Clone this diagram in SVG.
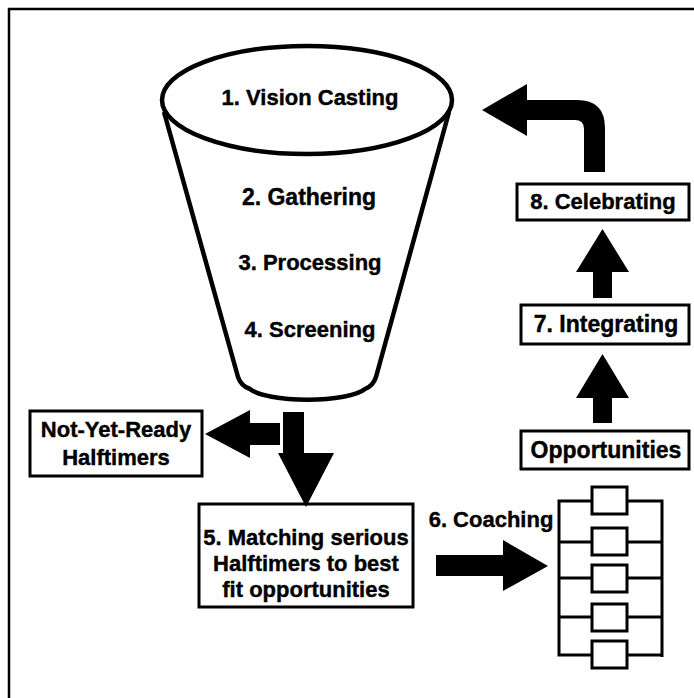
<svg xmlns="http://www.w3.org/2000/svg" width="694" height="698" viewBox="0 0 694 698">
<style>
text{font-family:"Liberation Sans",Arial,sans-serif;font-weight:bold;font-size:22px;fill:#000;stroke:#000;stroke-width:0.4;text-anchor:middle}
.big{font-size:23px}
.box{fill:#fff;stroke:#000;stroke-width:3}
.rung{fill:none;stroke:#000;stroke-width:3}
.arrow{fill:#000;stroke:none}
</style>
<rect width="694" height="698" fill="#fff"/>
<path d="M9,698 V9 H694" fill="none" stroke="#000" stroke-width="2.5"/>
<g id="funnel">
<path d="M164,112 L238,377 Q241,386 250,389 A60 15 0 0 0 365,389 Q373,386 376,377 L449,112" fill="#fff" stroke="#000" stroke-width="4.5" stroke-linejoin="round"/>
<ellipse cx="307" cy="100" rx="145" ry="54" fill="#fff" stroke="#000" stroke-width="4.5"/>
<text x="310" y="105">1. Vision Casting</text>
<text class="big" x="309" y="205">2. Gathering</text>
<text x="310" y="270">3. Processing</text>
<text x="310" y="337">4. Screening</text>
</g>
<g id="not-yet-ready">
<rect class="box" x="30" y="411" width="172" height="65"/>
<text x="116" y="437">Not-Yet-Ready</text>
<text x="116" y="465">Halftimers</text>
</g>
<g id="matching">
<rect class="box" x="199" y="504" width="214" height="103"/>
<text x="306" y="545">5. Matching serious</text>
<text x="306" y="571">Halftimers to best</text>
<text x="306" y="597">fit opportunities</text>
</g>
<g id="coaching">
<text x="491" y="527">6. Coaching</text>
<path class="rung" d="M592,501 H559 V655 H592 M559,542 H592 M559,578 H592 M559,617 H592 M627,501 H662 V657 M627,542 H662 M627,578 H662 M627,617 H662 M627,655 H662"/>
<rect class="box" x="592" y="487" width="35" height="27"/>
<rect class="box" x="592" y="528" width="35" height="27"/>
<rect class="box" x="592" y="565" width="35" height="27"/>
<rect class="box" x="592" y="604" width="35" height="27"/>
<rect class="box" x="592" y="641" width="35" height="27"/>
</g>
<g id="opportunities">
<rect class="box" x="521" y="431" width="168" height="38"/>
<text class="big" x="606" y="458">Opportunities</text>
</g>
<g id="integrating">
<rect class="box" x="521" y="305" width="168" height="39"/>
<text class="big" x="606" y="332">7. Integrating</text>
</g>
<g id="celebrating">
<rect class="box" x="517" y="184" width="172" height="36"/>
<text x="603" y="209">8. Celebrating</text>
</g>
<g id="connectors">
<path class="arrow" d="M280,423 V445 H250 V458 L205,434 L250,410 V423 Z"/>
<path class="arrow" d="M283,412 H304 V453 H334 L306,507 L278,453 H283 Z"/>
<path class="arrow" d="M436,555 H503 V540 L548,566 L503,591 V576 H436 Z"/>
<path class="arrow" d="M593,423 V398 H576 L602.5,354 L629,398 H612 V423 Z"/>
<path class="arrow" d="M593,298 V272 H576 L602.5,229 L629,272 H612 V298 Z"/>
<path class="arrow" d="M584,172 H605 V128 Q605,100 577,100 H527 V84 L482,110 L527,136 V120 H575 Q584,120 584,129 Z"/>
</g>
</svg>
